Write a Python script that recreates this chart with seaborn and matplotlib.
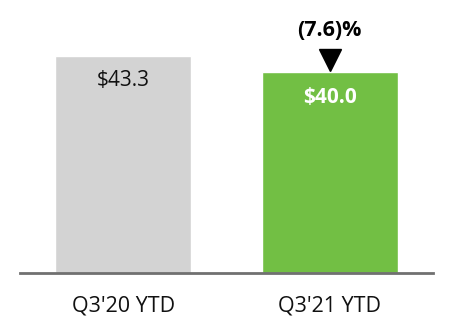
import matplotlib
matplotlib.use("Agg")
import matplotlib.pyplot as plt
import seaborn as sns
import pandas as pd

categories = ["Q3'20 YTD", "Q3'21 YTD"]
values = [43.3, 40.0]
value_labels = ["$43.3", "$40.0"]
change_label = "(7.6)%"
colors = ["#D3D3D3", "#72BF44"]

sns.set_style("white")
plt.rcParams['font.family'] = ['Open Sans', 'DejaVu Sans']

fig = plt.figure(figsize=(4.52, 3.32), dpi=100)
ax = fig.add_axes([20/452, 59/332, 413/452, 249/332])
df = pd.DataFrame({"cat": categories, "val": values})
sns.barplot(data=df, x="cat", y="val", hue="cat", palette=colors, width=0.66,
            legend=False, ax=ax, saturation=1)
ax.set_xlim(-0.5, 1.5)
ax.set_ylim(0, 49.6)
for s in ["top", "right", "left"]:
    ax.spines[s].set_visible(False)
ax.spines["bottom"].set_color("#707070")
ax.spines["bottom"].set_linewidth(2)
ax.set_yticks([])
ax.set_xlabel("")
ax.set_ylabel("")
ax.tick_params(axis="x", length=0, pad=16, labelsize=15.5, colors="#111111")

ax.text(0, values[0] - 5.0, value_labels[0], ha="center", va="center", fontsize=15, color="#111111")
ax.text(1, values[1] - 5.0, value_labels[1], ha="center", va="center", fontsize=15, color="white", fontweight="bold")
ax.plot([1], [values[1] + 2.5], marker="v", markersize=16, color="black", clip_on=False)
ax.text(1, values[1] + 8.4, change_label, ha="center", va="center", fontsize=15.5, fontweight="bold", color="black")

fig.savefig("out.png", dpi=100)
